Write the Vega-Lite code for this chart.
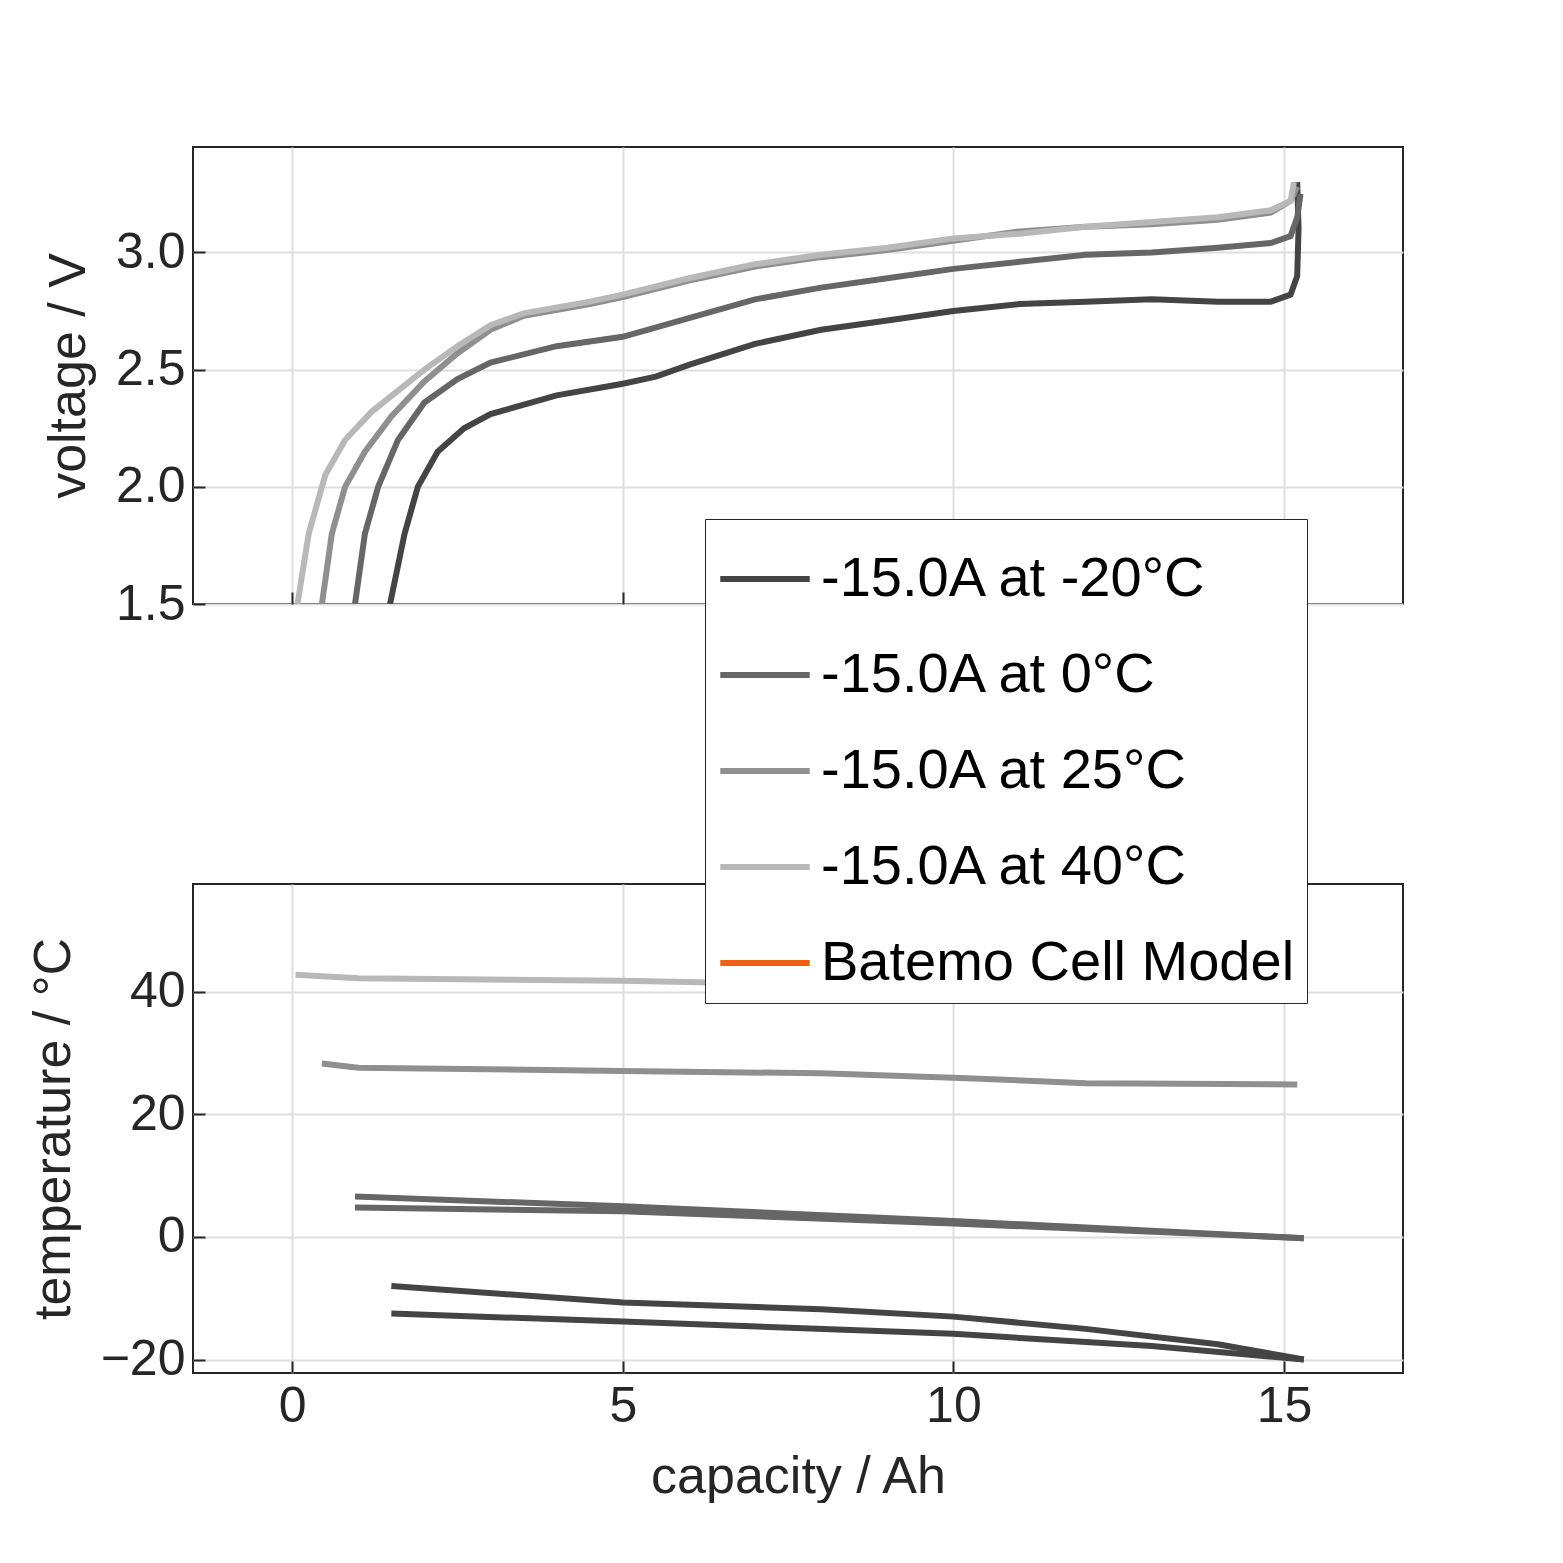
{
  "$schema": "https://vega.github.io/schema/vega-lite/v6.json",
  "autosize": {"type": "pad"},
  "padding": {"left": 26, "top": 146, "right": 0, "bottom": 0},
  "background": "white",
  "datasets": {
    "volt": [
      {"s":"-15.0A at -20°C","i":1,"c":1.48,"v":1.5},{"s":"-15.0A at -20°C","i":2,"c":1.7,"v":1.8},{"s":"-15.0A at -20°C","i":3,"c":1.9,"v":2.0},{"s":"-15.0A at -20°C","i":4,"c":2.2,"v":2.15},{"s":"-15.0A at -20°C","i":5,"c":2.6,"v":2.25},{"s":"-15.0A at -20°C","i":6,"c":3,"v":2.31},{"s":"-15.0A at -20°C","i":7,"c":4,"v":2.39},{"s":"-15.0A at -20°C","i":8,"c":5,"v":2.44},{"s":"-15.0A at -20°C","i":9,"c":5.5,"v":2.47},{"s":"-15.0A at -20°C","i":10,"c":6,"v":2.52},{"s":"-15.0A at -20°C","i":11,"c":7,"v":2.61},{"s":"-15.0A at -20°C","i":12,"c":8,"v":2.67},{"s":"-15.0A at -20°C","i":13,"c":9,"v":2.71},{"s":"-15.0A at -20°C","i":14,"c":10,"v":2.75},{"s":"-15.0A at -20°C","i":15,"c":11,"v":2.78},{"s":"-15.0A at -20°C","i":16,"c":12,"v":2.79},{"s":"-15.0A at -20°C","i":17,"c":13,"v":2.8},{"s":"-15.0A at -20°C","i":18,"c":14,"v":2.79},{"s":"-15.0A at -20°C","i":19,"c":14.8,"v":2.79},{"s":"-15.0A at -20°C","i":20,"c":15.1,"v":2.82},{"s":"-15.0A at -20°C","i":21,"c":15.2,"v":2.9},{"s":"-15.0A at -20°C","i":22,"c":15.22,"v":3.1},{"s":"-15.0A at -20°C","i":23,"c":15.2,"v":3.3},
      {"s":"-15.0A at 0°C","i":1,"c":0.95,"v":1.5},{"s":"-15.0A at 0°C","i":2,"c":1.1,"v":1.8},{"s":"-15.0A at 0°C","i":3,"c":1.3,"v":2.0},{"s":"-15.0A at 0°C","i":4,"c":1.6,"v":2.2},{"s":"-15.0A at 0°C","i":5,"c":2,"v":2.36},{"s":"-15.0A at 0°C","i":6,"c":2.5,"v":2.46},{"s":"-15.0A at 0°C","i":7,"c":3,"v":2.53},{"s":"-15.0A at 0°C","i":8,"c":4,"v":2.6},{"s":"-15.0A at 0°C","i":9,"c":5,"v":2.64},{"s":"-15.0A at 0°C","i":10,"c":6,"v":2.72},{"s":"-15.0A at 0°C","i":11,"c":7,"v":2.8},{"s":"-15.0A at 0°C","i":12,"c":8,"v":2.85},{"s":"-15.0A at 0°C","i":13,"c":9,"v":2.89},{"s":"-15.0A at 0°C","i":14,"c":10,"v":2.93},{"s":"-15.0A at 0°C","i":15,"c":11,"v":2.96},{"s":"-15.0A at 0°C","i":16,"c":12,"v":2.99},{"s":"-15.0A at 0°C","i":17,"c":13,"v":3.0},{"s":"-15.0A at 0°C","i":18,"c":14,"v":3.02},{"s":"-15.0A at 0°C","i":19,"c":14.8,"v":3.04},{"s":"-15.0A at 0°C","i":20,"c":15.1,"v":3.07},{"s":"-15.0A at 0°C","i":21,"c":15.2,"v":3.15},{"s":"-15.0A at 0°C","i":22,"c":15.25,"v":3.25},
      {"s":"-15.0A at 25°C","i":1,"c":0.45,"v":1.5},{"s":"-15.0A at 25°C","i":2,"c":0.6,"v":1.8},{"s":"-15.0A at 25°C","i":3,"c":0.8,"v":2.0},{"s":"-15.0A at 25°C","i":4,"c":1.1,"v":2.15},{"s":"-15.0A at 25°C","i":5,"c":1.5,"v":2.3},{"s":"-15.0A at 25°C","i":6,"c":2,"v":2.45},{"s":"-15.0A at 25°C","i":7,"c":2.5,"v":2.57},{"s":"-15.0A at 25°C","i":8,"c":3,"v":2.67},{"s":"-15.0A at 25°C","i":9,"c":3.5,"v":2.73},{"s":"-15.0A at 25°C","i":10,"c":4.5,"v":2.78},{"s":"-15.0A at 25°C","i":11,"c":5,"v":2.81},{"s":"-15.0A at 25°C","i":12,"c":6,"v":2.88},{"s":"-15.0A at 25°C","i":13,"c":7,"v":2.94},{"s":"-15.0A at 25°C","i":14,"c":8,"v":2.98},{"s":"-15.0A at 25°C","i":15,"c":9,"v":3.01},{"s":"-15.0A at 25°C","i":16,"c":10,"v":3.05},{"s":"-15.0A at 25°C","i":17,"c":11,"v":3.09},{"s":"-15.0A at 25°C","i":18,"c":12,"v":3.11},{"s":"-15.0A at 25°C","i":19,"c":13,"v":3.12},{"s":"-15.0A at 25°C","i":20,"c":14,"v":3.14},{"s":"-15.0A at 25°C","i":21,"c":14.8,"v":3.17},{"s":"-15.0A at 25°C","i":22,"c":15.1,"v":3.22},{"s":"-15.0A at 25°C","i":23,"c":15.2,"v":3.28},
      {"s":"-15.0A at 40°C","i":1,"c":0.08,"v":1.5},{"s":"-15.0A at 40°C","i":2,"c":0.25,"v":1.8},{"s":"-15.0A at 40°C","i":3,"c":0.5,"v":2.05},{"s":"-15.0A at 40°C","i":4,"c":0.8,"v":2.2},{"s":"-15.0A at 40°C","i":5,"c":1.2,"v":2.32},{"s":"-15.0A at 40°C","i":6,"c":2,"v":2.5},{"s":"-15.0A at 40°C","i":7,"c":2.5,"v":2.6},{"s":"-15.0A at 40°C","i":8,"c":3,"v":2.69},{"s":"-15.0A at 40°C","i":9,"c":3.5,"v":2.74},{"s":"-15.0A at 40°C","i":10,"c":4.5,"v":2.79},{"s":"-15.0A at 40°C","i":11,"c":5,"v":2.82},{"s":"-15.0A at 40°C","i":12,"c":6,"v":2.89},{"s":"-15.0A at 40°C","i":13,"c":7,"v":2.95},{"s":"-15.0A at 40°C","i":14,"c":8,"v":2.99},{"s":"-15.0A at 40°C","i":15,"c":9,"v":3.02},{"s":"-15.0A at 40°C","i":16,"c":10,"v":3.06},{"s":"-15.0A at 40°C","i":17,"c":11,"v":3.08},{"s":"-15.0A at 40°C","i":18,"c":12,"v":3.11},{"s":"-15.0A at 40°C","i":19,"c":13,"v":3.13},{"s":"-15.0A at 40°C","i":20,"c":14,"v":3.15},{"s":"-15.0A at 40°C","i":21,"c":14.8,"v":3.18},{"s":"-15.0A at 40°C","i":22,"c":15.1,"v":3.22},{"s":"-15.0A at 40°C","i":23,"c":15.15,"v":3.3}
    ],
    "temp": [
      {"s":"-15.0A at 40°C","t":"a","i":1,"c":0.05,"T":42.8},{"s":"-15.0A at 40°C","t":"a","i":2,"c":1,"T":42.2},{"s":"-15.0A at 40°C","t":"a","i":3,"c":5,"T":41.8},{"s":"-15.0A at 40°C","t":"a","i":4,"c":8,"T":41.2},{"s":"-15.0A at 40°C","t":"a","i":5,"c":10,"T":40.2},{"s":"-15.0A at 40°C","t":"a","i":6,"c":11,"T":39.6},{"s":"-15.0A at 40°C","t":"a","i":7,"c":13,"T":39.5},{"s":"-15.0A at 40°C","t":"a","i":8,"c":15.2,"T":39.6},
      {"s":"-15.0A at 25°C","t":"a","i":1,"c":0.45,"T":28.3},{"s":"-15.0A at 25°C","t":"a","i":2,"c":1,"T":27.6},{"s":"-15.0A at 25°C","t":"a","i":3,"c":5,"T":27.1},{"s":"-15.0A at 25°C","t":"a","i":4,"c":8,"T":26.7},{"s":"-15.0A at 25°C","t":"a","i":5,"c":10,"T":26},{"s":"-15.0A at 25°C","t":"a","i":6,"c":12,"T":25.1},{"s":"-15.0A at 25°C","t":"a","i":7,"c":15.2,"T":24.9},
      {"s":"-15.0A at 0°C","t":"a","i":1,"c":0.95,"T":6.6},{"s":"-15.0A at 0°C","t":"a","i":2,"c":5,"T":5},{"s":"-15.0A at 0°C","t":"a","i":3,"c":10,"T":2.6},{"s":"-15.0A at 0°C","t":"a","i":4,"c":15.3,"T":-0.2},
      {"s":"-15.0A at 0°C","t":"b","i":1,"c":0.95,"T":4.8},{"s":"-15.0A at 0°C","t":"b","i":2,"c":5,"T":4.2},{"s":"-15.0A at 0°C","t":"b","i":3,"c":10,"T":2.2},{"s":"-15.0A at 0°C","t":"b","i":4,"c":15.3,"T":-0.2},
      {"s":"-15.0A at -20°C","t":"a","i":1,"c":1.5,"T":-8},{"s":"-15.0A at -20°C","t":"a","i":2,"c":5,"T":-10.7},{"s":"-15.0A at -20°C","t":"a","i":3,"c":8,"T":-11.8},{"s":"-15.0A at -20°C","t":"a","i":4,"c":10,"T":-13},{"s":"-15.0A at -20°C","t":"a","i":5,"c":12,"T":-15},{"s":"-15.0A at -20°C","t":"a","i":6,"c":14,"T":-17.5},{"s":"-15.0A at -20°C","t":"a","i":7,"c":15.3,"T":-20},
      {"s":"-15.0A at -20°C","t":"b","i":1,"c":1.5,"T":-12.5},{"s":"-15.0A at -20°C","t":"b","i":2,"c":5,"T":-13.8},{"s":"-15.0A at -20°C","t":"b","i":3,"c":10,"T":-15.8},{"s":"-15.0A at -20°C","t":"b","i":4,"c":13,"T":-17.8},{"s":"-15.0A at -20°C","t":"b","i":5,"c":15.3,"T":-20}
    ]
  },
  "spacing": 253,
  "vconcat": [
    {
      "width": 1210,
      "height": 457,
      "data": {"name": "volt"},
      "mark": {"type": "line", "strokeWidth": 6, "clip": true},
      "encoding": {
        "x": {"field": "c", "type": "quantitative", "scale": {"domain": [-1.5, 16.8], "nice": false},
          "axis": {"labels": false, "title": null, "values": [0, 5, 10, 15]}},
        "y": {"field": "v", "type": "quantitative", "scale": {"domain": [1.5, 3.45], "nice": false, "zero": false},
          "axis": {"title": "voltage / V", "values": [1.5, 2.0, 2.5, 3.0], "format": ".1f"}},
        "order": {"field": "i"},
        "color": {"field": "s", "type": "nominal", "scale": {
          "domain": ["-15.0A at -20°C", "-15.0A at 0°C", "-15.0A at 25°C", "-15.0A at 40°C", "Batemo Cell Model"],
          "range": ["#444444", "#666666", "#8f8f8f", "#b8b8b8", "#f06010"]},
          "legend": {"title": null, "orient": "none", "legendX": 512, "legendY": 372}}
      }
    },
    {
      "width": 1210,
      "height": 489,
      "data": {"name": "temp"},
      "mark": {"type": "line", "strokeWidth": 6},
      "encoding": {
        "x": {"field": "c", "type": "quantitative", "scale": {"domain": [-1.5, 16.8], "nice": false},
          "axis": {"title": "capacity / Ah", "values": [0, 5, 10, 15], "titlePadding": 20}},
        "y": {"field": "T", "type": "quantitative", "scale": {"domain": [-22.2, 57.6], "nice": false, "zero": false},
          "axis": {"title": "temperature / °C", "values": [-20, 0, 20, 40]}},
        "order": {"field": "i"},
        "detail": {"field": "t"},
        "color": {"field": "s", "type": "nominal", "legend": null}
      }
    }
  ],
  "config": {
    "font": "Liberation Sans",
    "view": {"stroke": "#262626", "strokeWidth": 2},
    "axis": {
      "labelFontSize": 50, "titleFontSize": 52, "titleFontWeight": "normal",
      "labelColor": "#262626", "titleColor": "#262626",
      "grid": true, "gridColor": "#dedede", "gridWidth": 2,
      "domain": false, "tickColor": "#262626", "tickSize": -12, "tickWidth": 2,
      "labelPadding": 20
    },
    "axisY": {"titlePadding": 20},
    "legend": {
      "fillColor": "white", "strokeColor": "#262626", "padding": 12,
      "labelFontSize": 56, "labelColor": "black", "labelLimit": 700,
      "symbolType": "stroke", "symbolStrokeWidth": 6, "symbolSize": 8000,
      "rowPadding": 20, "labelOffset": 8
    }
  }
}
